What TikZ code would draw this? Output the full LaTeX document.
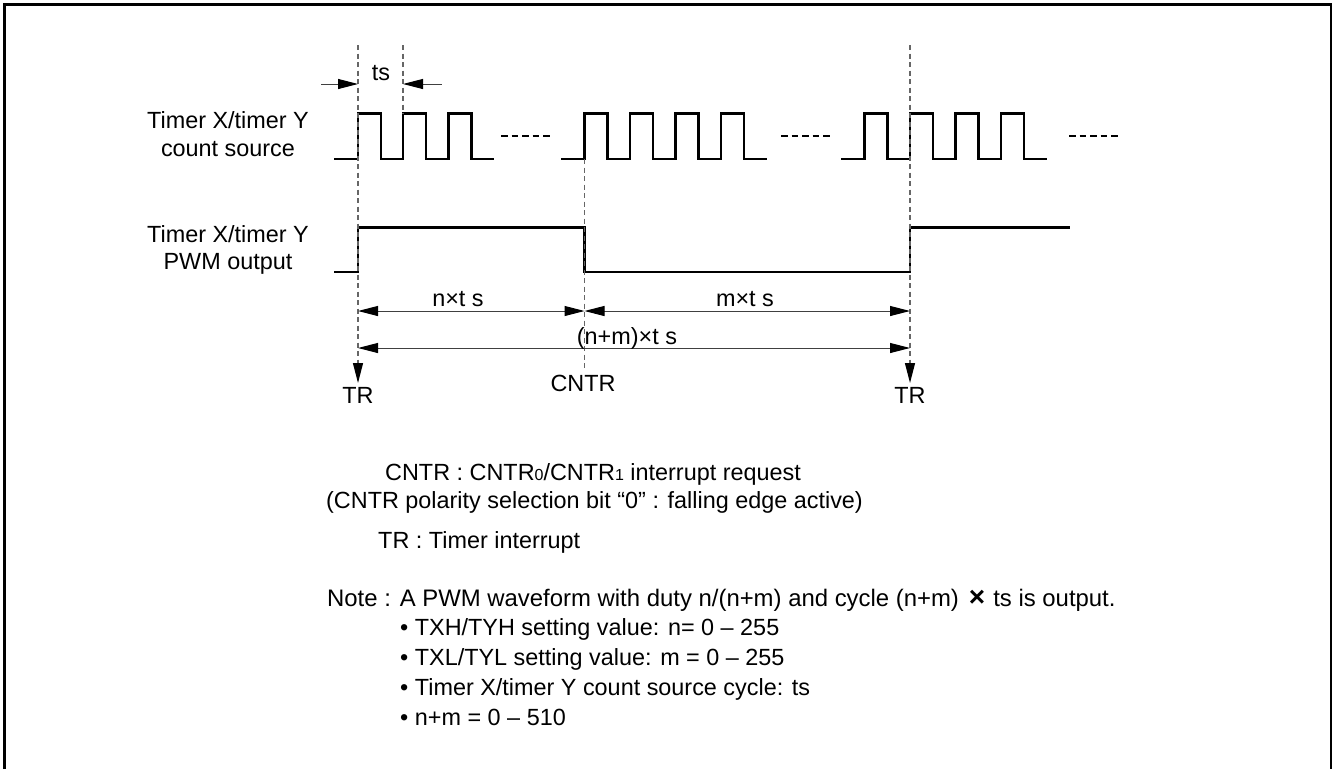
\documentclass[tikz,border=0pt]{standalone}
\usepackage{fontspec}
\setmainfont{Liberation Sans}
\usetikzlibrary{arrows.meta}
\newcommand\subdig[1]{{\fontsize{16}{16}\selectfont #1}}
\begin{document}
\begin{tikzpicture}[x=1pt,y=-1pt,
  wave/.style={line width=2.4pt, black, line join=miter},
  dots/.style={line width=2.4pt, black, dash pattern=on 6.5pt off 4pt},
  guide/.style={line width=1.2pt, black!60, dash pattern=on 5pt off 3.5pt},
  tip/.style={-{Triangle[length=20pt,width=10pt,black]}},
  dimline/.style={line width=1pt, black!75},
  dim/.style={dimline, {Triangle[length=20pt,width=10pt,black]}-{Triangle[length=20pt,width=10pt,black]}},
  lbl/.style={font=\fontsize{23.4}{27.5}\selectfont, inner sep=0pt, text=black},
  notelbl/.style={font=\fontsize{23.9}{27.5}\selectfont, inner sep=0pt, text=black},
  frame/.style={line width=2.5pt, black}]
\useasboundingbox (0,0) rectangle (1335,769);
% frame
\coordinate (fbl) at (4.5,769); \coordinate (ftl) at (4.5,4.5);
\coordinate (ftr) at (1331,4.5); \coordinate (fbr) at (1331,769);
\draw[frame] (fbl) -- (ftl) -- (ftr) -- (fbr);

% left labels
\node[lbl, align=center] (csLbl) at (228,134) {Timer X/timer Y\\count source};
\node[lbl, align=center] (pwmLbl) at (228,250) {Timer X/timer Y\\PWM output};

% count source waveform
\draw[wave] (334,159) foreach \x in {358,403,448.5} {-- (\x,159) -- (\x,113.5) -- (\x+23,113.5) -- (\x+23,159)} -- (494,159);
\draw[dots] (501,136) -- (550,136);
\draw[wave] (561,159) foreach \x in {584.5,630,675.5,721} {-- (\x,159) -- (\x,113.5) -- (\x+23,113.5) -- (\x+23,159)} -- (767,159);
\draw[dots] (781,136) -- (830,136);
\draw[wave] (841,159) foreach \x in {864.5,910,955.5,1001} {-- (\x,159) -- (\x,113.5) -- (\x+23,113.5) -- (\x+23,159)} -- (1047,159);
\draw[dots] (1069,136) -- (1118,136);

% PWM output waveform
\draw[wave] (334,272) -- (358,272) -- (358,227.5) -- (584.5,227.5) -- (584.5,272) -- (910,272) -- (910,227.5) -- (1070,227.5);

% guide lines
\coordinate (g1t) at (358,45);   \coordinate (g1b) at (358,383);
\coordinate (g2t) at (403,45);   \coordinate (g2b) at (403,113.5);
\coordinate (g3t) at (584.5,159); \coordinate (g3b) at (584.5,368);
\coordinate (g4t) at (910,45);   \coordinate (g4b) at (910,383);
\draw[guide, tip] (g1t) -- (g1b);
\draw[guide] (g2t) -- (g2b);
\draw[guide] (g3t) -- (g3b);
\draw[guide, tip] (g4t) -- (g4b);

% ts dimension
\coordinate (tsL) at (321,84);  \coordinate (tsLa) at (358,84);
\coordinate (tsR) at (441.5,84); \coordinate (tsRa) at (403,84);
\draw[dimline, tip] (tsL) -- (tsLa);
\draw[dimline, tip] (tsR) -- (tsRa);
\node[lbl, anchor=base] (tsLbl) at (381,80) {ts};

% period dimensions
\coordinate (d1a) at (358,311); \coordinate (d1b) at (584.5,311); \coordinate (d1c) at (910,311);
\coordinate (d2a) at (358,348); \coordinate (d2c) at (910,348);
\draw[dim] (d1a) -- (d1b);
\draw[dim] (d1b) -- (d1c);
\draw[dim] (d2a) -- (d2c);
\node[lbl, anchor=base] (nts) at (458,306) {n×t s};
\node[lbl, anchor=base] (mts) at (745,306) {m×t s};
\node[lbl, anchor=base] (nmts) at (627,344) {(n+m)×t s};

% interrupt labels
\node[lbl, anchor=base] (tr1) at (358,403) {TR};
\node[lbl, anchor=base] (cntr) at (583,391.5) {CNTR};
\node[lbl, anchor=base] (tr2) at (910,403) {TR};

% legend and notes
\node[lbl, anchor=base west] (l1) at (385,480) {CNTR : CNTR\subdig{0}/CNTR\subdig{1} interrupt request};
\node[lbl, anchor=base west] (l2) at (326,508) {(CNTR polarity selection bit “0” : falling edge active)};
\node[lbl, anchor=base west] (l3) at (378,548) {TR : Timer interrupt};
\node[notelbl, anchor=base west] (l4) at (327,606) {Note : A PWM waveform with duty n/(n+m) and cycle (n+m)\hspace{10pt}{\bfseries\fontsize{28}{28}\selectfont ×}\hspace{8pt}ts is output.};
\node[lbl, anchor=base west] (b1) at (400,635) {• TXH/TYH setting value: n= 0 – 255};
\node[lbl, anchor=base west] (b2) at (400,665) {• TXL/TYL setting value: m = 0 – 255};
\node[lbl, anchor=base west] (b3) at (400,695) {• Timer X/timer Y count source cycle: ts};
\node[lbl, anchor=base west] (b4) at (400,725) {• n+m = 0 – 510};
\end{tikzpicture}
\end{document}
